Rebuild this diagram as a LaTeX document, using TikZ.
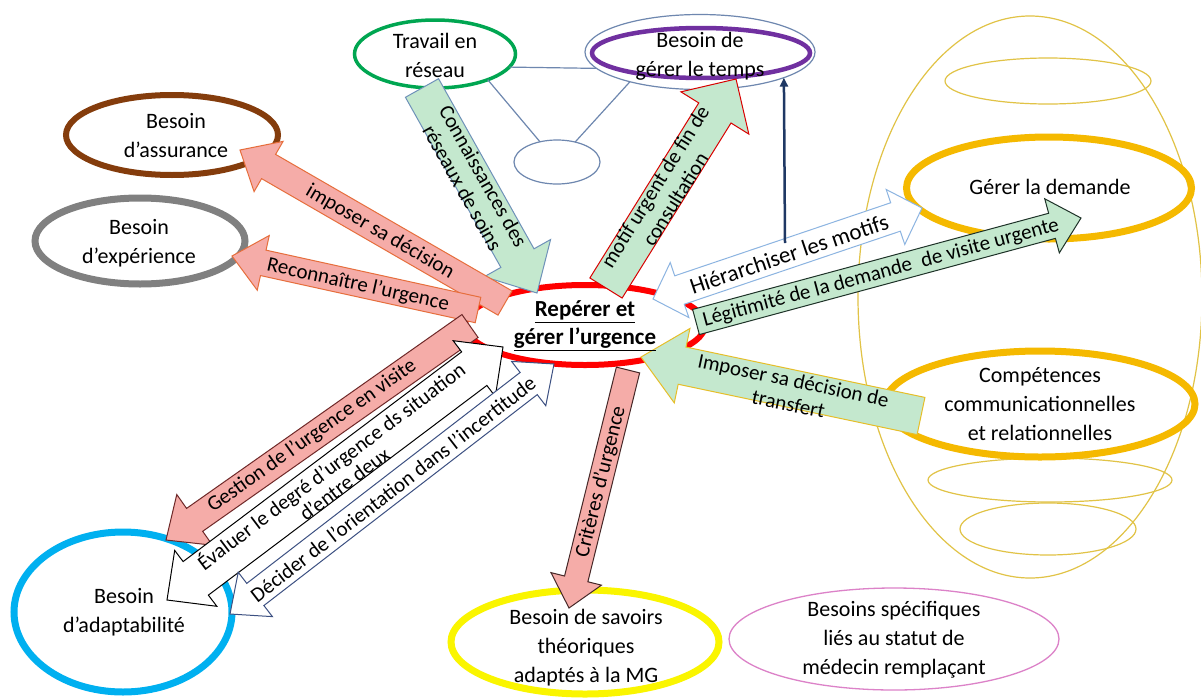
\documentclass[tikz,border=0pt]{standalone}
\usepackage{fontspec}
\setmainfont{Carlito}
\usetikzlibrary{shapes.geometric,calc,arrows.meta}
\definecolor{cgreen}{RGB}{0,166,81}
\definecolor{cpurple}{RGB}{112,48,160}
\definecolor{lineblue}{RGB}{110,135,175}
\definecolor{cbrown}{RGB}{132,60,12}
\definecolor{cgrey}{RGB}{128,128,128}
\definecolor{ccyan}{RGB}{0,176,240}
\definecolor{cyellow}{RGB}{250,245,0}
\definecolor{cpink}{RGB}{220,130,200}
\definecolor{cgold}{RGB}{245,185,0}
\definecolor{sphere}{RGB}{225,195,70}
\definecolor{agreen}{RGB}{196,232,206}
\definecolor{apink}{RGB}{245,172,168}
\definecolor{kblue}{RGB}{110,145,185}
\definecolor{aorange}{RGB}{230,110,60}
\definecolor{gborder}{RGB}{110,40,40}
\definecolor{dblue}{RGB}{60,80,130}
\definecolor{cborder}{RGB}{70,40,40}
\definecolor{hblue}{RGB}{140,180,225}
\definecolor{lborder}{RGB}{30,50,40}
\definecolor{tborder}{RGB}{230,190,40}
\definecolor{navyblue}{RGB}{31,56,100}
% block arrow: #1 tail, #2 tip, #3 half shaft, #4 half head, #5 head length, #6 style
\newcommand{\blockarr}[6]{%
  \coordinate (bb) at ($(#2)!#5!(#1)$);
  \draw[#6] ($(#1)!#3!90:(#2)$) -- ($(bb)!#3!-90:(#1)$) -- ($(bb)!#4!-90:(#1)$) -- (#2)
    -- ($(bb)!#4!90:(#1)$) -- ($(bb)!#3!90:(#1)$) -- ($(#1)!#3!-90:(#2)$) -- cycle;}
% double block arrow
\newcommand{\dblockarr}[6]{%
  \coordinate (ba) at ($(#1)!#5!(#2)$);
  \coordinate (bc) at ($(#2)!#5!(#1)$);
  \draw[#6] (#1) -- ($(ba)!#4!90:(#2)$) -- ($(ba)!#3!90:(#2)$) -- ($(bc)!#3!-90:(#1)$)
    -- ($(bc)!#4!-90:(#1)$) -- (#2) -- ($(bc)!#4!90:(#1)$) -- ($(bc)!#3!90:(#1)$)
    -- ($(ba)!#3!-90:(#2)$) -- ($(ba)!#4!-90:(#2)$) -- cycle;}
\begin{document}
\begin{tikzpicture}[x=1pt,y=-1pt,
  ell/.style={ellipse, inner sep=0pt, outer sep=0pt},
  etxt/.style={font=\fontsize{22}{29}\selectfont, align=center, inner sep=0pt},
  atxt/.style={font=\fontsize{21}{24}\selectfont, align=center, inner sep=0pt},
  grnarrow/.style={fill=agreen, line width=1pt},
  pinkarrow/.style={fill=apink, line width=1pt},
  wharrow/.style={fill=white, line width=1pt},
  thinline/.style={draw=lineblue, line width=1.2pt}]
\fill[white] (0,0) rectangle (1201,699);
\useasboundingbox (0,0) rectangle (1201,699);

% sphere on the right
\node[ell, draw=sphere, line width=1.2pt, minimum width=344pt, minimum height=562pt] (sph) at (1030,297) {};
\node[ell, draw=sphere, line width=1.2pt, minimum width=206pt, minimum height=46pt] (s1) at (1048,81) {};
\node[ell, draw=sphere, line width=1.2pt, minimum width=244pt, minimum height=44pt] (s2) at (1050,480) {};
\node[ell, draw=sphere, line width=1.2pt, minimum width=176pt, minimum height=52pt] (s3) at (1048,529) {};

% ellipses
\node[ell, draw=red, line width=6pt, minimum width=240pt, minimum height=80pt] (ctr) at (585,325) {};
\node[ell, draw=cgreen, line width=3.5pt, minimum width=161pt, minimum height=68pt] (trav) at (435,54) {};
\node[ell, draw=lineblue, line width=1.2pt, minimum width=230pt, minimum height=75pt] (tempo) at (700,52) {};
\node[ell, draw=cpurple, line width=4.5pt, minimum width=218pt, minimum height=50pt] (tempi) at (701,53) {};
\node[ell, draw=lineblue, line width=1.2pt, minimum width=86pt, minimum height=44pt] (sm) at (557,162) {};
\node[ell, draw=cbrown, line width=6pt, minimum width=212pt, minimum height=80pt] (assu) at (172,135) {};
\node[ell, draw=cgrey, line width=7pt, minimum width=210pt, minimum height=86pt] (expe) at (140,241) {};
\node[ell, draw=ccyan, line width=7pt, minimum width=218pt, minimum height=160pt] (adap) at (123,612) {};
\node[ell, draw=cyellow, line width=7pt, minimum width=268pt, minimum height=104pt] (savo) at (585,642) {};
\node[ell, draw=cpink, line width=1.3pt, minimum width=330pt, minimum height=102pt] (spec) at (894,639) {};
\node[ell, draw=cgold, line width=7pt, minimum width=285pt, minimum height=102pt] (gere) at (1049,188) {};
\node[ell, draw=cgold, line width=7pt, minimum width=310pt, minimum height=106pt] (comp) at (1040,404) {};

% thin connectors
\draw[thinline] (trav.-10) -- (tempo.189);
\draw[thinline] (trav.-26) -- (sm);
\draw[thinline] (tempo.203) -- (sm);

% block arrows
\coordinate (k1) at (422,88); \coordinate (k2) at (537,293);
\blockarr{k1}{k2}{19pt}{38pt}{40pt}{grnarrow, draw=kblue}
\node[atxt, rotate=-60.7] (kT) at (473,182) {Connaissances des\\réseaux de soins};

\coordinate (m1) at (606,288); \coordinate (m2) at (736,79);
\blockarr{m1}{m2}{19pt}{40pt}{40pt}{grnarrow, draw=red!85!black}
\node[atxt, rotate=58.1] (mT) at (665,193) {motif urgent de fin de\\consultation};

\coordinate (i1) at (505,303); \coordinate (i2) at (240,150);
\blockarr{i1}{i2}{14pt}{29pt}{33pt}{pinkarrow, draw=aorange}
\node[atxt, rotate=-30.2] (iT) at (380,232) {imposer sa décision};

\coordinate (r1) at (478,310); \coordinate (r2) at (232,256);
\blockarr{r1}{r2}{13pt}{28pt}{32pt}{pinkarrow, draw=aorange}
\node[atxt, rotate=-12.4] (rT) at (358,285) {Reconnaître l’urgence};

\coordinate (g1) at (470,326); \coordinate (g2) at (166,540);
\blockarr{g1}{g2}{14pt}{31pt}{35pt}{pinkarrow, draw=gborder}
\node[atxt, rotate=35.3] (gT) at (312,436) {Gestion de l’urgence en visite};

\coordinate (e1) at (167,600); \coordinate (e2) at (503,347);
\dblockarr{e1}{e2}{21pt}{35pt}{36pt}{wharrow, draw=black}
\node[atxt, rotate=37, font=\fontsize{21}{22}\selectfont] (eT) at (337,474) {Évaluer le degré d’urgence ds situation\\d’entre deux};

\coordinate (d1) at (230,614); \coordinate (d2) at (554,364);
\dblockarr{d1}{d2}{14pt}{28pt}{32pt}{wharrow, draw=dblue}
\node[atxt, rotate=37.7] (dT) at (393,489) {Décider de l’orientation dans l’incertitude};

\coordinate (c1) at (628,370); \coordinate (c2) at (569,608);
\blockarr{c1}{c2}{12pt}{26pt}{30pt}{pinkarrow, draw=cborder}
\node[atxt, rotate=76.1] (cT) at (601,482) {Critères d’urgence};

\coordinate (h1) at (653,299); \coordinate (h2) at (922,208);
\dblockarr{h1}{h2}{15pt}{29pt}{28pt}{wharrow, draw=hblue}
\node[font=\fontsize{23}{26}\selectfont, inner sep=0pt, rotate=18.7] (hT) at (789,254) {Hiérarchiser les motifs};

\coordinate (l1) at (696,322); \coordinate (l2) at (1081,218);
\blockarr{l1}{l2}{13pt}{28pt}{30pt}{grnarrow, draw=lborder}
\node[atxt, rotate=15.1] (lT) at (881,273) {Légitimité de la demande\hspace{0.25em} de visite urgente};

\coordinate (t1) at (921,416); \coordinate (t2) at (641,357);
\blockarr{t1}{t2}{19pt}{38pt}{42pt}{grnarrow, draw=tborder}
\node[atxt, rotate=-11.9] (tT) at (791,392) {Imposer sa décision de\\transfert};

% navy arrow
\coordinate (nv) at (785,243);
\draw[navyblue, line width=2.5pt, -{Triangle[length=9pt,width=8pt]}] (nv) -- (tempo.-17);

% ellipse texts
\node[font=\bfseries\fontsize{23}{28}\selectfont, align=center, inner sep=0pt] (ctrT) at (585,326) {\underline{Repérer et}\\\underline{gérer l’urgence}};
\node[etxt] (travT) at (435,55) {Travail en\\réseau};
\node[etxt] (tempT) at (700,56) {Besoin de\\gérer le temps};
\node[etxt] (assuT) at (176,136) {Besoin\\d’assurance};
\node[etxt] (expeT) at (139,243) {Besoin\\d’expérience};
\node[etxt] (adapT) at (124,612) {Besoin\\d’adaptabilité};
\node[etxt] (savoT) at (586,648) {Besoin de savoirs\\théoriques\\adaptés à la MG};
\node[etxt] (specT) at (894,640) {Besoins spécifiques\\liés au statut de\\médecin remplaçant};
\node[etxt] (gereT) at (1050,187) {Gérer la demande};
\node[etxt] (compT) at (1040,404) {Compétences\\communicationnelles\\et relationnelles};
\end{tikzpicture}
\end{document}
